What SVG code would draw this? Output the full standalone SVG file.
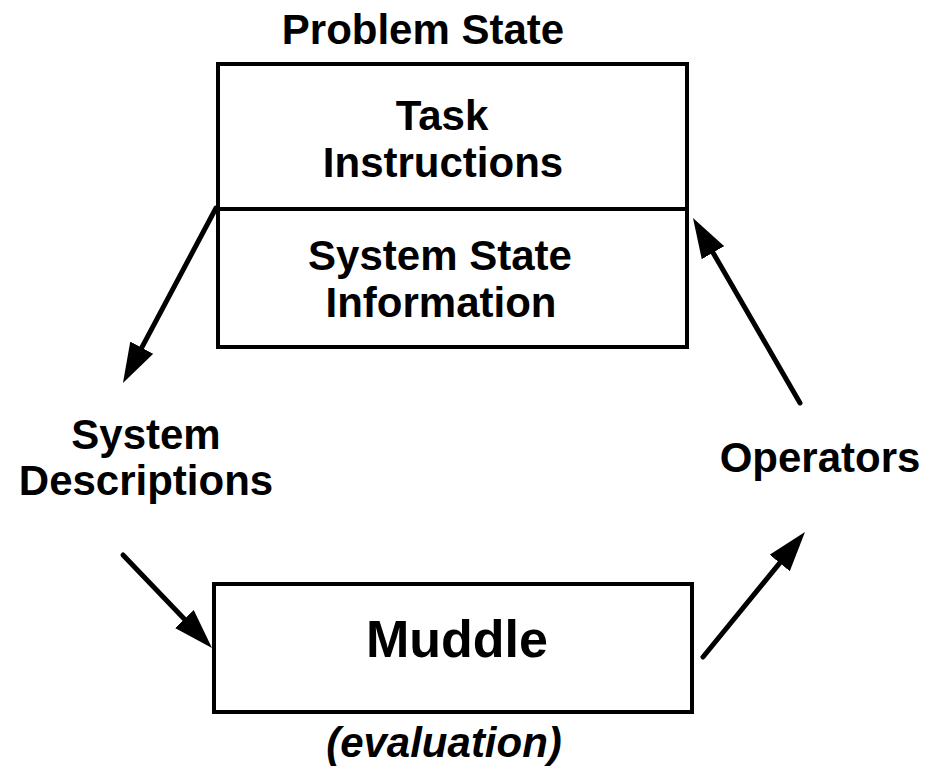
<svg xmlns="http://www.w3.org/2000/svg" width="926" height="776" viewBox="0 0 926 776">
  <style>
    .box { fill: #fff; stroke: #000; stroke-width: 4; }
    .lbl { font-family: "Liberation Sans", Arial, Helvetica, sans-serif; font-weight: bold; font-size: 42px; fill: #000; text-anchor: middle; }
    .big { font-size: 52px; }
    .ital { font-style: italic; }
    .conn { stroke: #000; stroke-width: 5; fill: none; stroke-linecap: round; marker-end: url(#head); }
  </style>
  <defs>
    <marker id="head" viewBox="0 0 40 26" refX="28" refY="13" markerWidth="40" markerHeight="26" markerUnits="userSpaceOnUse" orient="auto">
      <path d="M0,0 L40,13 L0,26 Z" fill="#000"/>
    </marker>
  </defs>
  <rect width="926" height="776" fill="#fff"/>

  <!-- Problem state: task instructions above system state information -->
  <g id="problem-state">
    <text class="lbl" x="423" y="44">Problem State</text>
    <rect class="box" x="218" y="64" width="469" height="283"/>
    <line x1="218" y1="209" x2="687" y2="209" stroke="#000" stroke-width="4"/>
    <text class="lbl" x="442" y="130">Task</text>
    <text class="lbl" x="443" y="177">Instructions</text>
    <text class="lbl" x="440" y="270">System State</text>
    <text class="lbl" x="441" y="317">Information</text>
  </g>

  <g id="system-descriptions">
    <text class="lbl" x="146" y="449">System</text>
    <text class="lbl" x="146" y="495">Descriptions</text>
  </g>

  <g id="operators">
    <text class="lbl" x="820" y="472">Operators</text>
  </g>

  <g id="muddle">
    <rect class="box" x="214" y="584" width="478" height="128"/>
    <text class="lbl big" x="457" y="657">Muddle</text>
    <text class="lbl ital" x="444" y="757">(evaluation)</text>
  </g>

  <g id="connectors">
    <line class="conn" x1="216" y1="208" x2="128.6" y2="372.4"/>
    <line class="conn" x1="123" y1="555" x2="203.7" y2="639.3"/>
    <line class="conn" x1="703" y1="657" x2="797.4" y2="541.3"/>
    <line class="conn" x1="800" y1="403" x2="699" y2="228.4"/>
  </g>
</svg>
